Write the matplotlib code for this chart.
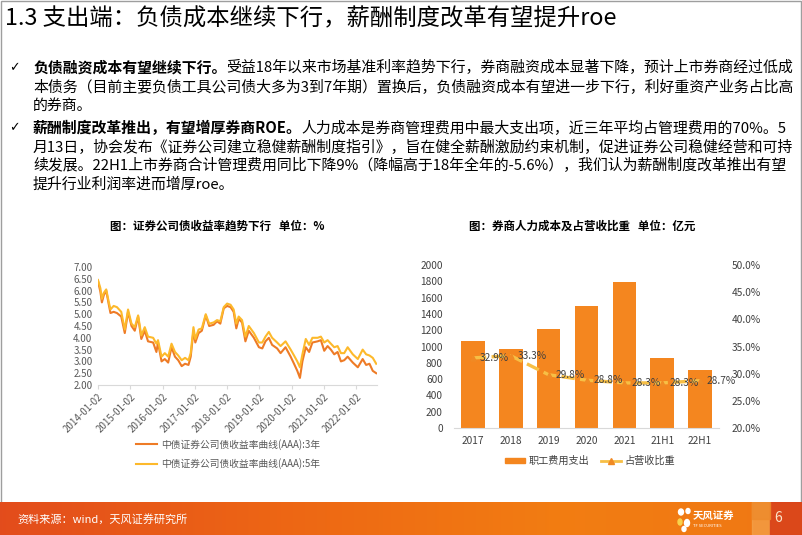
import matplotlib
matplotlib.use("Agg")
import matplotlib.pyplot as plt
import matplotlib.dates as mdates
from matplotlib.patches import Rectangle, Ellipse
from matplotlib.lines import Line2D
import numpy as np
import pandas as pd
from datetime import datetime

plt.rcParams['font.family'] = ['Noto Sans CJK SC', 'DejaVu Sans']

# ---------------- data ----------------
title = "1.3 支出端：负债成本继续下行，薪酬制度改革有望提升roe"
bullet1 = [
    [("负债融资成本有望继续下行。", True), ("受益18年以来市场基准利率趋势下行，券商融资成本显著下降，预计上市券商经过低成", False)],
    [("本债务（目前主要负债工具公司债大多为3到7年期）置换后，负债融资成本有望进一步下行，利好重资产业务占比高", False)],
    [("的券商。", False)],
]
bullet2 = [
    [("薪酬制度改革推出，有望增厚券商ROE。", True), ("人力成本是券商管理费用中最大支出项，近三年平均占管理费用的70%。5", False)],
    [("月13日，协会发布《证券公司建立稳健薪酬制度指引》，旨在健全薪酬激励约束机制，促进证券公司稳健经营和可持", False)],
    [("续发展。22H1上市券商合计管理费用同比下降9%（降幅高于18年全年的-5.6%），我们认为薪酬制度改革推出有望", False)],
    [("提升行业利润率进而增厚roe。", False)],
]

left_title = "图：证券公司债收益率趋势下行   单位：%"
right_title = "图：券商人力成本及占营收比重   单位：亿元"

bond_dates = ["2014-01-02", "2014-01-29", "2014-02-15", "2014-03-08", "2014-04-05", "2014-05-02",
              "2014-05-23", "2014-06-28", "2014-08-04", "2014-09-22", "2014-11-01", "2014-12-08",
              "2015-01-16", "2015-02-22", "2015-04-01", "2015-05-07", "2015-06-15", "2015-07-22",
              "2015-09-18", "2015-10-25", "2015-11-12", "2015-12-22", "2016-01-28", "2016-03-06",
              "2016-04-13", "2016-05-22", "2016-06-28", "2016-08-06", "2016-09-13", "2016-10-22",
              "2016-11-16", "2016-12-17", "2017-01-07", "2017-02-13", "2017-03-22", "2017-05-05",
              "2017-06-13", "2017-08-02", "2017-09-10", "2017-10-17", "2017-11-25", "2018-01-02",
              "2018-02-10", "2018-03-17", "2018-04-16", "2018-05-13", "2018-06-20", "2018-07-28",
              "2018-09-04", "2018-11-01", "2018-12-28", "2019-02-04", "2019-03-12", "2019-04-19",
              "2019-05-26", "2019-07-22", "2019-08-30", "2019-10-25", "2019-12-22", "2020-01-29",
              "2020-03-06", "2020-04-05", "2020-05-03", "2020-06-10", "2020-07-18", "2020-08-24",
              "2020-10-22", "2020-11-28", "2021-01-05", "2021-02-12", "2021-03-21", "2021-04-28",
              "2021-06-05", "2021-07-13", "2021-08-19", "2021-09-27", "2021-11-24", "2022-01-20",
              "2022-03-16", "2022-04-24", "2022-06-01", "2022-07-08", "2022-08-16"]
yield_3y = [6.40, 5.95, 5.50, 5.80, 6.00, 5.45, 5.05, 5.10, 5.05, 4.90, 4.20, 5.10,
            4.50, 4.30, 4.90, 3.95, 4.30, 3.85, 3.80, 3.40, 3.80, 3.00, 3.10, 2.95,
            3.60, 3.20, 3.05, 2.80, 2.90, 2.85, 3.20, 4.30, 3.80, 4.20, 4.30, 4.95,
            4.50, 4.55, 4.70, 4.60, 5.25, 5.35, 5.30, 5.10, 4.40, 4.80, 4.65, 3.85,
            4.30, 4.00, 3.60, 3.55, 3.85, 4.00, 3.70, 3.55, 3.35, 3.60, 3.20, 2.90,
            2.60, 2.30, 3.00, 3.60, 3.40, 3.80, 3.85, 3.90, 3.45, 3.65, 3.50, 3.30,
            3.40, 3.00, 3.05, 3.20, 2.95, 2.75, 3.10, 2.85, 2.90, 2.60, 2.50]
yield_5y = [6.45, 6.10, 5.65, 5.90, 6.05, 5.55, 5.20, 5.35, 5.30, 5.10, 4.35, 5.20,
            4.60, 4.45, 4.95, 4.10, 4.45, 4.05, 4.00, 3.75, 3.90, 3.20, 3.35, 3.20,
            3.75, 3.40, 3.25, 3.05, 3.15, 3.05, 3.35, 4.45, 3.95, 4.35, 4.40, 5.00,
            4.60, 4.65, 4.75, 4.70, 5.30, 5.45, 5.40, 5.20, 4.60, 4.90, 4.75, 4.05,
            4.50, 4.20, 3.80, 3.80, 4.05, 4.25, 4.00, 3.80, 3.65, 3.85, 3.50, 3.25,
            3.00, 2.75, 3.30, 3.95, 3.70, 4.00, 4.00, 4.05, 3.80, 3.90, 3.75, 3.60,
            3.65, 3.35, 3.35, 3.60, 3.30, 3.10, 3.50, 3.30, 3.25, 3.15, 2.90]
bond_tick_years = [2014, 2015, 2016, 2017, 2018, 2019, 2020, 2021, 2022]
label_3y = "中债证券公司债收益率曲线(AAA):3年"
label_5y = "中债证券公司债收益率曲线(AAA):5年"

categories = ["2017", "2018", "2019", "2020", "2021", "21H1", "22H1"]
staff_cost = [1070, 965, 1220, 1495, 1790, 865, 708]
revenue_share = [32.9, 33.3, 29.8, 28.8, 28.3, 28.3, 28.7]
label_cost = "职工费用支出"
label_share = "占营收比重"

source_text = "资料来源：wind，天风证券研究所"
page_no = "6"

# ---------------- figure ----------------
W, H = 802, 535
fig = plt.figure(figsize=(W / 100, H / 100), dpi=100)
fig.patch.set_facecolor('white')
renderer = fig.canvas.get_renderer()


def fx(px):
    return px / W


def fy(py):
    return 1 - py / H


def runs_width(runs, size):
    total = 0
    for s, b in runs:
        t = fig.text(0, 0, s, fontsize=size, fontweight='bold' if b else 'normal')
        total += t.get_window_extent(renderer).width
        t.remove()
    return total


def draw_runs(x_px, y_px, runs, size, color='black'):
    x = x_px
    for s, b in runs:
        t = fig.text(fx(x), fy(y_px), s, fontsize=size, fontweight='bold' if b else 'normal',
                     va='center', ha='left', color=color)
        x += t.get_window_extent(renderer).width


# border
fig.add_artist(Rectangle((0.0008, 0.0), 0.9984, 0.999, transform=fig.transFigure,
                         fill=False, edgecolor='#9E9E9E', linewidth=1.0, zorder=0))

# title fitted to width
tsize = 15 * 612 / runs_width([(title, False)], 15)
fig.text(fx(5), fy(19), title, fontsize=tsize, va='center', ha='left', color='black')

# bullets fitted to width
all_lines = bullet1 + bullet2
widest = max(runs_width(l, 10) for l in all_lines[:2] + all_lines[3:6])
bsize = 10 * 762 / widest
ys1 = [68, 87, 106]
ys2 = [128, 147, 166, 185]
for ys, lines in ((ys1, bullet1), (ys2, bullet2)):
    fig.text(fx(9), fy(ys[0]), "✓", fontsize=bsize * 0.85, va='center', ha='left',
             family=['DejaVu Sans'])
    for y, l in zip(ys, lines):
        draw_runs(33, y, l, bsize)

# chart titles
fig.text(fx(217), fy(226), left_title, fontsize=8.3, fontweight='bold', ha='center', va='center')
fig.text(fx(582), fy(226), right_title, fontsize=8.3, fontweight='bold', ha='center', va='center')

# ---------------- left: line chart ----------------
axL = fig.add_axes([fx(98), fy(385), (377 - 98) / W, (385 - 267) / H])
dts = pd.to_datetime(bond_dates)
c3, c5 = '#EE7B26', '#FDB92B'
axL.plot(dts, yield_3y, color=c3, lw=1.5, label=label_3y)
axL.plot(dts, yield_5y, color=c5, lw=1.5, label=label_5y)
axL.set_ylim(2, 7)
axL.set_yticks(np.arange(2, 7.01, 0.5))
axL.yaxis.set_major_formatter(plt.FuncFormatter(lambda v, p: f"{v:.2f}"))
axL.set_xlim(datetime(2014, 1, 2), datetime(2022, 8, 25))
axL.set_xticks([datetime(y, 1, 2) for y in bond_tick_years])
axL.xaxis.set_major_formatter(mdates.DateFormatter('%Y-%m-%d'))
for s in ['top', 'right', 'left']:
    axL.spines[s].set_visible(False)
axL.spines['bottom'].set_color('#D9D9D9')
axL.tick_params(axis='y', length=0, labelsize=7, labelcolor='#595959', pad=4)
axL.tick_params(axis='x', length=3, color='#D9D9D9', labelsize=7, labelcolor='#595959', pad=2)
for lab in axL.get_xticklabels():
    lab.set_rotation(45)
    lab.set_ha('right')
    lab.set_rotation_mode('anchor')
axL.legend(loc='center', bbox_to_anchor=(fx(228), fy(454)), bbox_transform=fig.transFigure,
           frameon=False, fontsize=7, labelcolor='#595959', handlelength=2.2,
           labelspacing=0.9, handletextpad=0.4)

# ---------------- right: bar + line ----------------
axR = fig.add_axes([fx(454), fy(428), (719 - 454) / W, (428 - 265) / H])
x = np.arange(len(categories))
bar_c = '#F4861F'
axR.bar(x, staff_cost, width=0.62, color=bar_c, label=label_cost, zorder=2)
axR.set_xlim(-0.5, len(categories) - 0.5)
axR.set_ylim(0, 2000)
axR.set_yticks(np.arange(0, 2001, 200))
axR.set_xticks(x)
axR.set_xticklabels(categories)
for s in ['top', 'right', 'left']:
    axR.spines[s].set_visible(False)
axR.spines['bottom'].set_color('#D9D9D9')
axR.tick_params(axis='y', length=0, labelsize=7.3, labelcolor='#404040', pad=8)
axR.tick_params(axis='x', length=0, labelsize=7.3, labelcolor='#404040', pad=6)

axR2 = axR.twinx()
line_c = '#F7BF45'
axR2.plot(x, revenue_share, color=line_c, lw=2.4, linestyle=(0, (4, 1.6)), zorder=3)
axR2.plot(x, revenue_share, linestyle='none', marker='^', ms=3.5, color='#F08A24', zorder=4)
axR2.set_ylim(20, 50)
axR2.set_yticks(np.arange(20, 50.01, 5))
axR2.yaxis.set_major_formatter(plt.FuncFormatter(lambda v, p: f"{v:.1f}%"))
for s in ['top', 'right', 'left', 'bottom']:
    axR2.spines[s].set_visible(False)
axR2.tick_params(axis='y', length=0, labelsize=7.3, labelcolor='#404040', pad=9)
for xi, v in zip(x, revenue_share):
    axR2.annotate(f"{v:.1f}%", (xi, v), xytext=(5, 0), textcoords='offset points',
                  ha='left', va='center', fontsize=7.3, color='#404040', zorder=5)

handles = [Rectangle((0, 0), 1, 1, color=bar_c),
           Line2D([0], [0], color=line_c, lw=2, marker='^', ms=4,
                  markerfacecolor='#F08A24', markeredgecolor='#F08A24')]
axR.legend(handles, [label_cost, label_share], loc='center', ncol=2,
           bbox_to_anchor=(fx(590), fy(461)), bbox_transform=fig.transFigure,
           frameon=False, fontsize=7.3, labelcolor='#404040', handlelength=2.0,
           handleheight=0.5, handletextpad=0.3, columnspacing=1.2)

# ---------------- footer ----------------
axF = fig.add_axes([0, 0, 1, (535 - 502) / H])
axF.set_axis_off()
cols = np.array([[0.89, 0.30, 0.11], [0.93, 0.40, 0.08], [0.95, 0.49, 0.07], [0.94, 0.47, 0.08]])
pos = np.array([0.0, 0.35, 0.7, 1.0])
xs = np.linspace(0, 1, 400)
grad = np.stack([np.interp(xs, pos, cols[:, k]) for k in range(3)], axis=-1)[None, :, :]
axF.imshow(grad, aspect='auto', extent=[0, W, 0, 33])
axF.set_xlim(0, W)
axF.set_ylim(0, 33)
axF.add_patch(Rectangle((752, 0), 18, 33, color='#F3A44E', alpha=0.7))
axF.add_patch(Rectangle((770, 0), 32, 33, color='#D9431B', alpha=0.9))
axF.add_patch(Rectangle((752, 16), 18, 17, color='#EE8B2C', alpha=0.8))
axF.text(17, 16, source_text, color='white', fontsize=8, va='center', ha='left')
axF.text(778, 17, page_no, color='#FBE3C8', fontsize=10, va='center', ha='center')
# logo
for (cx, cy, w, h, c) in [(681, 23, 5, 6, 'white'), (688, 24, 4, 5, 'white'),
                          (680, 13, 4, 6, '#F9D24B'), (687, 12, 5, 7, 'white'),
                          (684, 6, 4, 5, 'white')]:
    axF.add_patch(Ellipse((cx, cy), w, h, color=c))
axF.text(693, 19, "天风证券", color='white', fontsize=7.5, fontweight='bold', va='center', ha='left')
axF.text(693, 9, "TF SECURITIES", color='white', fontsize=3, va='center', ha='left')

fig.savefig("out.png", dpi=100)
